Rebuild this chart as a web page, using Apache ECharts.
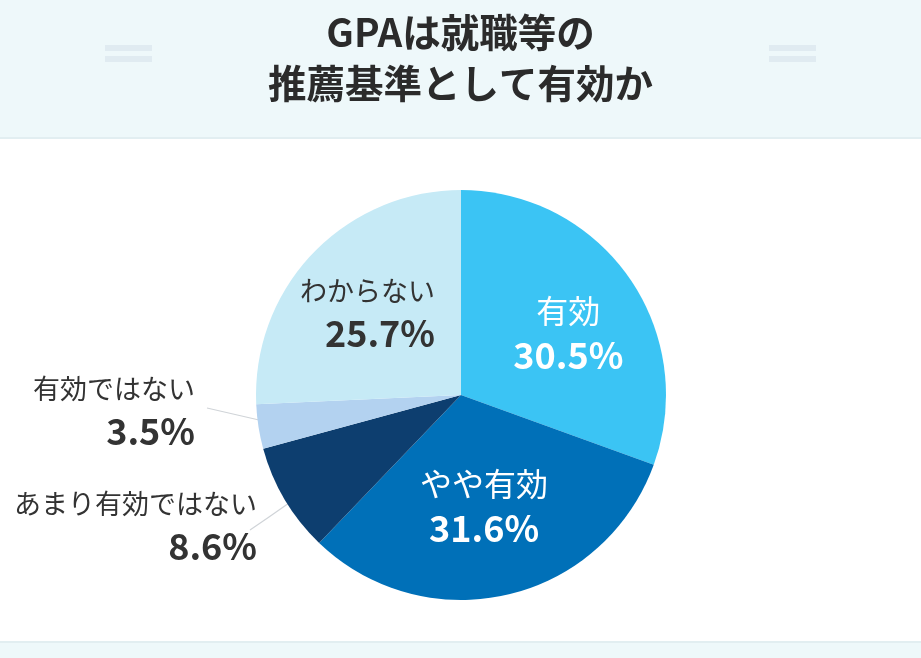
<!DOCTYPE html>
<html>
<head>
<meta charset="utf-8">
<script src="https://cdn.jsdelivr.net/npm/echarts@6/dist/echarts.min.js"></script>
<style>
  html, body { margin: 0; padding: 0; background: #fff; }
  #main { width: 921px; height: 658px; }
</style>
</head>
<body>
<div id="main"></div>
<script>
// 回答の区分と割合（%）
const categories = ['有効', 'やや有効', 'あまり有効ではない', '有効ではない', 'わからない'];
const shares = [30.5, 31.6, 8.6, 3.5, 25.7];
const sliceColors = ['#3bc4f4', '#0070b8', '#0d3e6f', '#b3d2f0', '#c6eaf6'];
const labelColors = ['#ffffff', '#ffffff', '#333333', '#333333', '#333333'];
const nameSizes = [32, 32, 27, 27, 27];

const cx = 461, cy = 395, r = 205;
const font = '"Noto Sans CJK JP", "Noto Sans", sans-serif';

var myChart = echarts.init(document.getElementById('main'));

// ラベルの置き場所（中心からの相対）
const labelSpots = {
  0: { dx: 21, dy: -2 },
  1: { dx: -1, dy: 8 },
  2: { x: cx - 204, y: cy + 131, line: [[cx - 172, cy + 108], [cx - 192, cy + 122], [cx - 211, cy + 135]] },
  3: { x: cx - 266, y: cy + 16, line: [[cx - 176, cy + 31], [cx - 215, cy + 22], [cx - 254, cy + 13]] },
  4: { x: cx - 26, y: cy - 82 }
};

var option = {
  backgroundColor: '#ffffff',
  textStyle: { fontFamily: font },
  graphic: [
    { type: 'rect', shape: { x: 0, y: 0, width: 921, height: 138 }, style: { fill: '#eef8fa' }, z: -10 },
    { type: 'rect', shape: { x: 0, y: 137, width: 921, height: 2 }, style: { fill: '#e2eef1' }, z: -9 },
    { type: 'rect', shape: { x: 0, y: 642, width: 921, height: 16 }, style: { fill: '#eef8fa' }, z: -10 },
    { type: 'rect', shape: { x: 0, y: 641, width: 921, height: 2 }, style: { fill: '#e2eef1' }, z: -9 },
    { type: 'rect', shape: { x: 105, y: 45, width: 47, height: 6 }, style: { fill: '#e0ebf1' } },
    { type: 'rect', shape: { x: 105, y: 56, width: 47, height: 6 }, style: { fill: '#e0ebf1' } },
    { type: 'rect', shape: { x: 769, y: 45, width: 47, height: 6 }, style: { fill: '#e0ebf1' } },
    { type: 'rect', shape: { x: 769, y: 56, width: 47, height: 6 }, style: { fill: '#e0ebf1' } }
  ],
  title: {
    text: 'GPAは就職等の\n推薦基準として有効か',
    left: 'center',
    top: 2,
    textStyle: {
      fontFamily: font,
      fontSize: 38.5,
      fontWeight: 'bold',
      color: '#2b2b2b',
      lineHeight: 51
    }
  },
  series: [{
    type: 'pie',
    center: [cx, cy],
    radius: r,
    startAngle: 90,
    clockwise: true,
    silent: true,
    label: {
      show: true,
      position: 'inside',
      overflow: 'none',
      formatter: '{n|{b}}\n{v|{c}%}',
      rich: {
        n: { fontFamily: font, fontSize: 27, lineHeight: 40 },
        v: { fontFamily: font, fontSize: 36, fontWeight: 'bold', lineHeight: 44 }
      }
    },
    labelLine: { show: true, lineStyle: { color: '#d0d4d8', width: 1.2 } },
    labelLayout: function (params) {
      const s = labelSpots[params.dataIndex];
      if (s.x === undefined) return { dx: s.dx, dy: s.dy };
      const out = { x: s.x, y: s.y, align: 'right', verticalAlign: 'middle' };
      if (s.line) out.labelLinePoints = s.line;
      return out;
    },
    data: categories.map((name, i) => ({
      name: name,
      value: shares[i],
      itemStyle: { color: sliceColors[i] },
      label: {
        color: labelColors[i],
        position: (i === 2 || i === 3) ? 'outside' : 'inside',
        align: (i >= 2) ? 'right' : 'center',
        overflow: 'none',
        rich: {
          n: { color: labelColors[i], fontSize: nameSizes[i], lineHeight: nameSizes[i] + 13, align: (i >= 2) ? 'right' : 'center' },
          v: { color: labelColors[i], align: (i >= 2) ? 'right' : 'center' }
        }
      },
      labelLine: { show: i === 2 || i === 3 }
    }))
  }]
};
myChart.setOption(option);
</script>
</body>
</html>
